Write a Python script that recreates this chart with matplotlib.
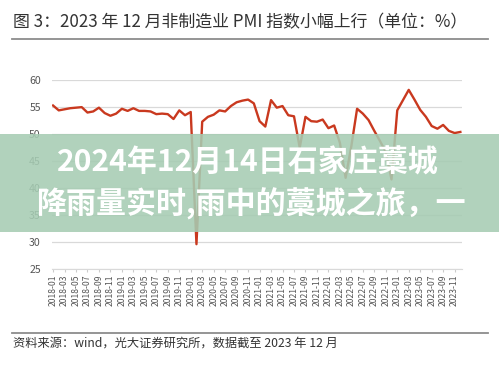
import matplotlib.pyplot as plt
from matplotlib.patches import Rectangle
from matplotlib.lines import Line2D

plt.rcParams['font.family'] = ['Noto Sans CJK SC', 'DejaVu Sans']

# monthly non-manufacturing PMI, 2018-01 .. 2023-12
years = range(2018, 2024)
months = [f"{y}-{m:02d}" for y in years for m in range(1, 13)]
pmi = [
    55.3, 54.4, 54.6, 54.8, 54.9, 55.0, 54.0, 54.2, 54.9, 53.9, 53.4, 53.8,
    54.7, 54.3, 54.8, 54.3, 54.3, 54.2, 53.7, 53.8, 53.7, 52.8, 54.4, 53.5,
    54.1, 29.6, 52.3, 53.2, 53.6, 54.4, 54.2, 55.2, 55.9, 56.2, 56.4, 55.7,
    52.4, 51.4, 56.3, 54.9, 55.2, 53.5, 53.3, 47.5, 53.2, 52.4, 52.3, 52.7,
    51.1, 51.6, 48.4, 41.9, 47.8, 54.7, 53.8, 52.6, 50.6, 48.7, 46.7, 41.6,
    54.4, 56.3, 58.2, 56.4, 54.5, 53.2, 51.5, 51.0, 51.7, 50.6, 50.2, 50.4,
]
yticks = [25, 30, 35, 40, 45, 50, 55, 60]

title = "图 3：2023 年 12 月非制造业 PMI 指数小幅上行（单位：%）"
source = "资料来源：wind，光大证券研究所，数据截至 2023 年 12 月"
overlay = ["2024年12月14日石家庄藁城", "降雨量实时,雨中的藁城之旅，一"]

fig = plt.figure(figsize=(4.99, 3.66), dpi=100)
ax = fig.add_axes([0.104, 0.265, 0.822, 0.516])

x = list(range(len(months)))
ax.plot(x, pmi, color='#c9391f', lw=1.7, zorder=3)

ax.set_ylim(25, 60)
ax.set_xlim(-0.2, 71.3)
ax.set_yticks(yticks)
ax.set_xticks(x[::2])
ax.set_xticklabels(months[::2], rotation=90, fontsize=6.2, color='#555555')
ax.tick_params(axis='y', length=0, labelsize=7.6, labelcolor='#555555', pad=8)
ax.tick_params(axis='x', length=2, color='#cccccc', pad=2)
ax.grid(axis='y', color='#d9d9d9', lw=0.9)
for s in ['top', 'right', 'left']:
    ax.spines[s].set_visible(False)
ax.spines['bottom'].set_color('#d9d9d9')

fig.text(0.026, 0.94, title, fontsize=12.2, color='#333333', va='center')
fig.add_artist(Line2D([0.024, 0.978], [0.893, 0.893], color='#8c8c8c', lw=1.3))
fig.add_artist(Line2D([0.024, 0.978], [0.09, 0.09], color='#8c8c8c', lw=1.3))
fig.text(0.026, 0.063, source, fontsize=8.8, color='#333333', va='center')

# translucent green banner over the chart
fig.add_artist(Rectangle((0, 0.366), 1, 0.268, transform=fig.transFigure,
                         facecolor='#a6ccb3', alpha=0.88, zorder=5))
fig.text(0.497, 0.555, overlay[0], fontsize=21.6, fontweight='bold',
         color='white', ha='center', va='center', zorder=6)
fig.text(0.502, 0.443, overlay[1], fontsize=21.6, fontweight='bold',
         color='white', ha='center', va='center', zorder=6)

fig.savefig('out.png', dpi=100)
